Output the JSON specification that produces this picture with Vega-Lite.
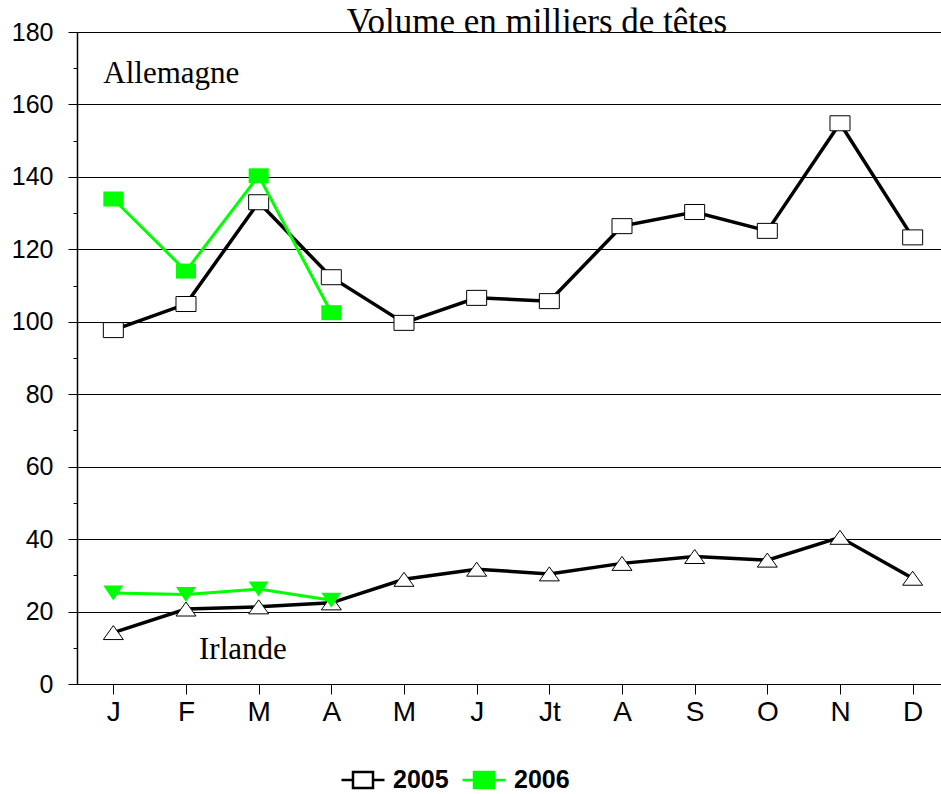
{
  "$schema": "https://vega.github.io/schema/vega-lite/v6.json",
  "width": 864,
  "height": 652,
  "autosize": {"type": "none"},
  "padding": {"left": 77, "top": 32, "right": 0, "bottom": 110},
  "background": "white",
  "config": {"view": {"stroke": null}, "font": "Liberation Sans"},
  "title": {"text": "Volume en milliers de têtes", "font": "Liberation Serif", "fontSize": 35, "fontWeight": "normal", "color": "black", "anchor": "middle", "dx": 28, "baseline": "alphabetic", "offset": -48},
  "datasets": {
    "series": [
      {"m": 1, "year": "2005", "country": "Allemagne", "v": 97.7},
      {"m": 2, "year": "2005", "country": "Allemagne", "v": 104.9},
      {"m": 3, "year": "2005", "country": "Allemagne", "v": 133.0},
      {"m": 4, "year": "2005", "country": "Allemagne", "v": 112.3},
      {"m": 5, "year": "2005", "country": "Allemagne", "v": 99.7},
      {"m": 6, "year": "2005", "country": "Allemagne", "v": 106.6},
      {"m": 7, "year": "2005", "country": "Allemagne", "v": 105.7},
      {"m": 8, "year": "2005", "country": "Allemagne", "v": 126.4},
      {"m": 9, "year": "2005", "country": "Allemagne", "v": 130.3},
      {"m": 10, "year": "2005", "country": "Allemagne", "v": 125.1},
      {"m": 11, "year": "2005", "country": "Allemagne", "v": 154.8},
      {"m": 12, "year": "2005", "country": "Allemagne", "v": 123.3},
      {"m": 1, "year": "2006", "country": "Allemagne", "v": 133.9},
      {"m": 2, "year": "2006", "country": "Allemagne", "v": 114.0},
      {"m": 3, "year": "2006", "country": "Allemagne", "v": 140.3},
      {"m": 4, "year": "2006", "country": "Allemagne", "v": 102.5},
      {"m": 1, "year": "2005", "country": "Irlande", "v": 14.2},
      {"m": 2, "year": "2005", "country": "Irlande", "v": 20.7},
      {"m": 3, "year": "2005", "country": "Irlande", "v": 21.3},
      {"m": 4, "year": "2005", "country": "Irlande", "v": 22.4},
      {"m": 5, "year": "2005", "country": "Irlande", "v": 28.9},
      {"m": 6, "year": "2005", "country": "Irlande", "v": 31.7},
      {"m": 7, "year": "2005", "country": "Irlande", "v": 30.4},
      {"m": 8, "year": "2005", "country": "Irlande", "v": 33.3},
      {"m": 9, "year": "2005", "country": "Irlande", "v": 35.2},
      {"m": 10, "year": "2005", "country": "Irlande", "v": 34.2},
      {"m": 11, "year": "2005", "country": "Irlande", "v": 40.5},
      {"m": 12, "year": "2005", "country": "Irlande", "v": 29.2},
      {"m": 1, "year": "2006", "country": "Irlande", "v": 25.1},
      {"m": 2, "year": "2006", "country": "Irlande", "v": 24.7},
      {"m": 3, "year": "2006", "country": "Irlande", "v": 26.2},
      {"m": 4, "year": "2006", "country": "Irlande", "v": 23.1}
    ],
    "months": [{"m": 1}, {"m": 2}, {"m": 3}, {"m": 4}, {"m": 5}, {"m": 6}, {"m": 7}, {"m": 8}, {"m": 9}, {"m": 10}, {"m": 11}, {"m": 12}]
  },
  "data": {"name": "series"},
  "encoding": {
    "x": {
      "field": "m", "type": "quantitative",
      "scale": {"domain": [0.5, 12.39], "nice": false, "zero": false},
      "axis": {
        "values": [1, 2, 3, 4, 5, 6, 7, 8, 9, 10, 11, 12],
        "labelExpr": "['J','F','M','A','M','J','Jt','A','S','O','N','D'][datum.value-1]",
        "title": null, "grid": false, "domainColor": "black", "domainWidth": 1,
        "tickColor": "black", "tickSize": 10, "labelFontSize": 28, "labelColor": "black",
        "labelPadding": 4, "labelFont": "Liberation Sans", "labelFlush": false, "labelOverlap": false
      }
    },
    "y": {
      "field": "v", "type": "quantitative",
      "scale": {"domain": [0, 180], "nice": false},
      "axis": {
        "values": [0, 10, 20, 30, 40, 50, 60, 70, 80, 90, 100, 110, 120, 130, 140, 150, 160, 170, 180],
        "labelExpr": "datum.value % 20 === 0 ? datum.label : ''",
        "title": null, "grid": true, "gridColor": "black", "gridWidth": 1,
        "gridOpacity": {"condition": {"test": "datum.value % 20 === 0", "value": 1}, "value": 0},
        "tickSize": {"condition": {"test": "datum.value % 20 === 0", "value": 9}, "value": 4},
        "tickColor": "black", "domainColor": "black", "domainWidth": 1.5,
        "labelFontSize": 25, "labelPadding": 15, "labelColor": "black", "labelFont": "Liberation Sans",
        "labelOverlap": false, "labelFlush": false
      }
    }
  },
  "layer": [
    {
      "transform": [{"filter": "datum.year === '2005'"}],
      "mark": {"type": "line", "strokeWidth": 3.5},
      "encoding": {
        "detail": {"field": "country"},
        "color": {
          "field": "year", "type": "nominal",
          "scale": {"domain": ["2005", "2006"], "range": ["black", "#00ff00"]},
          "legend": {
            "orient": "none", "legendX": 263, "legendY": 725, "direction": "horizontal", "title": null,
            "padding": 0,
            "symbolType": "M-1,0H-0.465M0.465,0H1M-0.465,-0.37H0.465V0.37H-0.465Z",
            "symbolSize": 1849, "symbolStrokeWidth": 2.5,
            "labelFontSize": 25, "labelFontWeight": "bold", "labelColor": "black", "labelFont": "Liberation Sans",
            "labelOffset": 7, "columnPadding": 8,
            "encode": {"symbols": {"update": {
              "fill": [{"test": "datum.value === '2005'", "value": "white"}, {"value": "#00ff00"}],
              "stroke": [{"test": "datum.value === '2005'", "value": "black"}, {"value": "#00ff00"}],
              "opacity": {"value": 1}, "fillOpacity": {"value": 1}
            }}}
          }
        }
      }
    },
    {
      "transform": [{"filter": "datum.year === '2005' && datum.country === 'Allemagne'"}],
      "mark": {"type": "point", "shape": "M-1,-0.75H1V0.75H-1Z", "size": 400, "filled": true, "fill": "white", "stroke": "black", "strokeWidth": 1, "opacity": 1}
    },
    {
      "transform": [{"filter": "datum.year === '2005' && datum.country === 'Irlande'"}],
      "mark": {"type": "point", "shape": "M0,-0.7L1,0.7L-1,0.7Z", "size": 400, "filled": true, "fill": "white", "stroke": "black", "strokeWidth": 1, "opacity": 1}
    },
    {
      "transform": [{"filter": "datum.year === '2006'"}],
      "mark": {"type": "line", "strokeWidth": 3},
      "encoding": {
        "detail": {"field": "country"},
        "color": {"field": "year", "type": "nominal", "scale": {"domain": ["2005", "2006"], "range": ["black", "#00ff00"]}}
      }
    },
    {
      "transform": [{"filter": "datum.year === '2006' && datum.country === 'Allemagne'"}],
      "mark": {"type": "point", "shape": "M-1,-0.75H1V0.75H-1Z", "size": 400, "filled": true, "fill": "#00ff00", "strokeWidth": 0, "opacity": 1}
    },
    {
      "transform": [{"filter": "datum.year === '2006' && datum.country === 'Irlande'"}],
      "mark": {"type": "point", "shape": "M-1,-0.75L1,-0.75L0,0.75Z", "size": 400, "filled": true, "fill": "#00ff00", "strokeWidth": 0, "opacity": 1}
    },
    {
      "data": {"values": [{"m": 1, "v": 165.9, "t": "Allemagne"}]},
      "mark": {"type": "text", "align": "left", "baseline": "alphabetic", "dx": -10, "font": "Liberation Serif", "fontSize": 31, "color": "black"},
      "encoding": {"text": {"field": "t"}}
    },
    {
      "data": {"values": [{"m": 2, "v": 6.8, "t": "Irlande"}]},
      "mark": {"type": "text", "align": "left", "baseline": "alphabetic", "dx": 13, "font": "Liberation Serif", "fontSize": 31, "color": "black"},
      "encoding": {"text": {"field": "t"}}
    },
    {
      "data": {"name": "months"},
      "mark": {"type": "tick", "orient": "vertical", "size": 20, "thickness": 1, "color": "black", "opacity": 1},
      "encoding": {"y": {"datum": 0}}
    }
  ]
}
